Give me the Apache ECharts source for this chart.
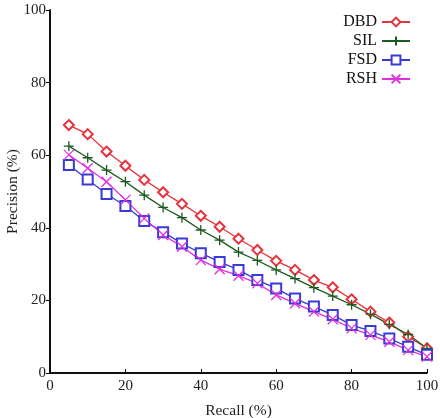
<!DOCTYPE html>
<html>
	<head>
		<meta charset="utf-8">
		<title></title>
		<script type="text/javascript" src="https://cdn.jsdelivr.net/npm/echarts@6/dist/echarts.min.js"></script>
		<style>
			html, body { margin: 0; padding: 0; background: #fff; }
			#chart { width: 440px; height: 418px; }
		</style>
	</head>
	<body>
		<div id="chart"></div>
		<script type="text/javascript">
			var recall = [5, 10, 15, 20, 25, 30, 35, 40, 45, 50, 55, 60, 65, 70, 75, 80, 85, 90, 95, 100];
			var dbd = [68.3, 65.8, 61.0, 57.1, 53.2, 49.8, 46.6, 43.3, 40.3, 37.0, 33.9, 30.9, 28.4, 25.6, 23.6, 20.3, 16.9, 13.9, 10.0, 6.8];
			var sil = [62.5, 59.3, 55.9, 52.7, 49.0, 45.6, 42.8, 39.4, 36.6, 33.3, 31.0, 28.4, 26.0, 23.5, 21.2, 18.8, 16.2, 13.4, 10.6, 6.8];
			var fsd = [57.3, 53.3, 49.3, 46.0, 41.9, 38.8, 35.7, 33.0, 30.6, 28.4, 25.6, 23.3, 20.5, 18.3, 16.0, 13.2, 11.6, 9.5, 7.2, 5.0];
			var rsh = [60.1, 56.4, 52.7, 47.7, 42.6, 38.0, 34.8, 31.1, 28.6, 26.8, 24.7, 21.5, 19.2, 16.9, 14.8, 12.3, 10.5, 8.6, 6.3, 4.5];
			var yTicks = [0, 20, 40, 60, 80, 100];

			var serif = '"Liberation Serif", "DejaVu Serif", serif';

			function pairs(ys) {
				var out = [];
				for (var i = 0; i < recall.length; i++) {
					out.push([recall[i], ys[i]]);
				}
				return out;
			}

			function makeSeries(name, ys, color, symbol) {
				return {
					name: name,
					type: 'line',
					data: pairs(ys),
					symbol: symbol,
					symbolSize: 10,
					showAllSymbol: true,
					lineStyle: { color: color, width: 1.3 },
					itemStyle: { color: color, borderColor: color, borderWidth: 1.3 },
					emphasis: { disabled: true },
					z: 3
				};
			}

			var plus = 'path://M5,0L5,10M0,5L10,5';
			var cross = 'path://M0,0L10,10M10,0L0,10';

			var myChart = echarts.init(document.getElementById('chart'));
			var axisLine = { show: true, lineStyle: { color: '#000', width: 1.5 } };
			var option = {
				animation: false,
				grid: { left: 50, right: 13, top: 10, bottom: 45, containLabel: false, outerBoundsMode: 'none' },
				legend: {
					right: 24,
					top: 9,
					orient: 'vertical',
					align: 'right',
					itemGap: 3,
					itemWidth: 28,
					itemHeight: 11,
					textStyle: { fontFamily: serif, fontSize: 16, color: '#111' },
					data: ['DBD', 'SIL', 'FSD', 'RSH']
				},
				xAxis: [{
					type: 'value',
					min: 0,
					max: 100,
					interval: 20,
					name: 'Recall (%)',
					nameLocation: 'middle',
					nameGap: 30,
					nameMoveOverlap: false,
					nameTextStyle: { fontFamily: serif, fontSize: 15.5, color: '#222' },
					axisLine: axisLine,
					axisTick: { inside: true, length: 4, lineStyle: { color: '#000' } },
					axisLabel: { fontFamily: serif, fontSize: 15, color: '#222', margin: 6 },
					splitLine: { show: false }
				}, {
					type: 'value',
					position: 'top',
					min: 0,
					max: 100,
					interval: 20,
					axisLine: axisLine,
					axisTick: { show: false },
					axisLabel: { show: false },
					splitLine: { show: false }
				}],
				yAxis: [{
					type: 'value',
					min: 0,
					max: 100,
					interval: 20,
					name: 'Precision (%)',
					nameLocation: 'middle',
					nameGap: 29,
					nameMoveOverlap: false,
					nameTextStyle: { fontFamily: serif, fontSize: 15.5, color: '#222' },
					axisLine: axisLine,
					axisTick: { inside: false, length: 4, lineStyle: { color: '#000' } },
					axisLabel: {
						fontFamily: serif, fontSize: 15, color: '#222', margin: 4,
						formatter: function(v) { return yTicks.indexOf(v) >= 0 ? String(v) : ''; }
					},
					splitLine: { show: false }
				}, {
					type: 'value',
					position: 'right',
					min: 0,
					max: 100,
					interval: 20,
					axisLine: axisLine,
					axisTick: { inside: true, length: 4, lineStyle: { color: '#000' } },
					axisLabel: { show: false },
					splitLine: { show: false }
				}],
				series: [
					makeSeries('DBD', dbd, '#e8323c', 'emptyDiamond'),
					makeSeries('SIL', sil, '#1d5a1d', plus),
					makeSeries('FSD', fsd, '#3a3ad8', 'emptyRect'),
					makeSeries('RSH', rsh, '#e22ee2', cross)
				]
			};

			myChart.setOption(option);
		</script>
	</body>
</html>
